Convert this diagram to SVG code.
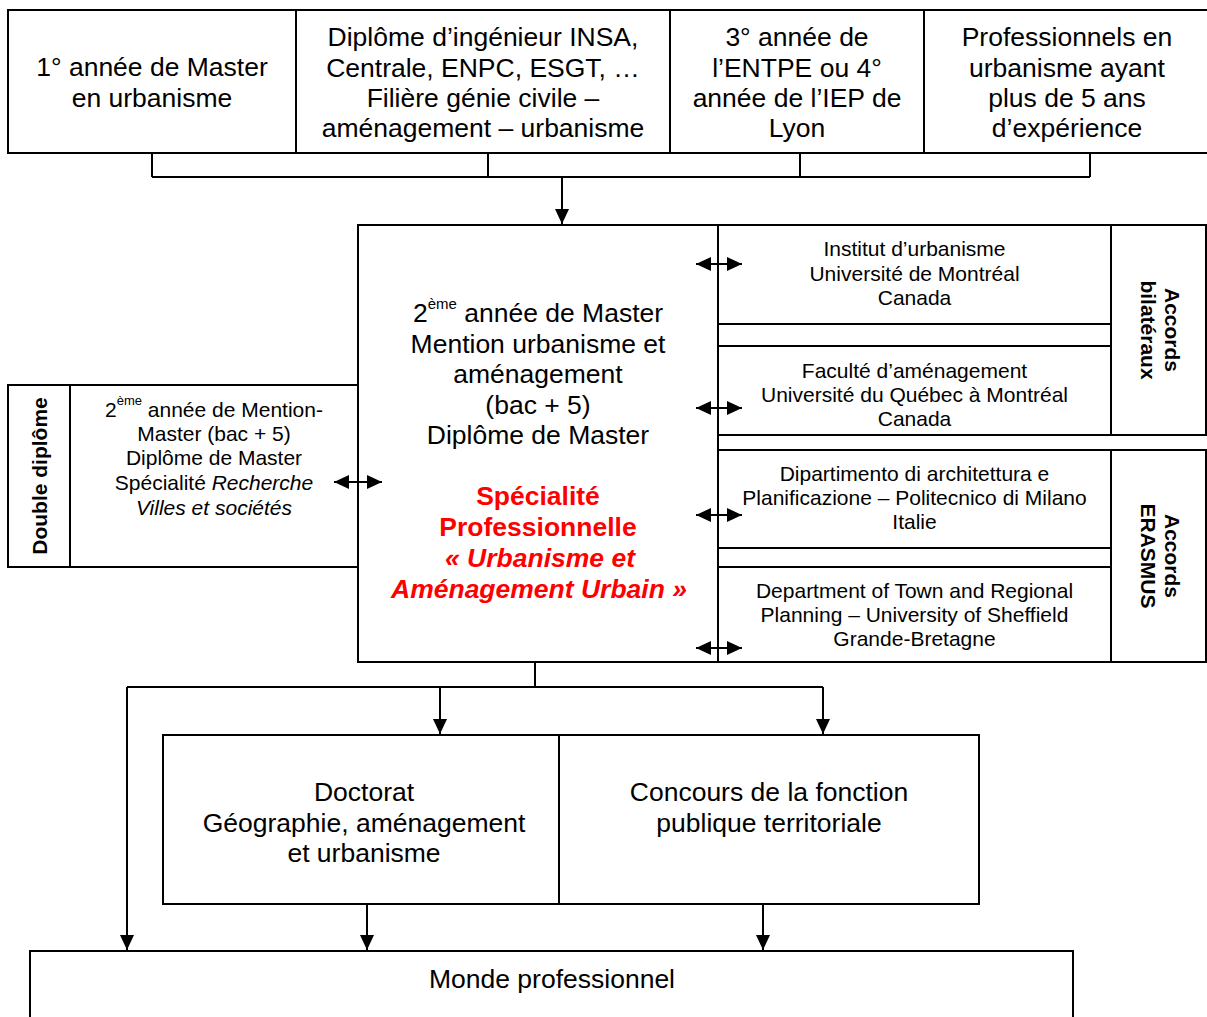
<svg xmlns="http://www.w3.org/2000/svg" width="1207" height="1017" viewBox="0 0 1207 1017">
<style>
.box{fill:#fff;stroke:#000;stroke-width:2}
.t{font-family:"Liberation Sans",Arial,sans-serif;font-size:26.5px;text-anchor:middle;fill:#000}
.s{font-size:21px}
.b{font-weight:bold}
.red{fill:#ff0000;font-weight:bold}
.i{font-style:italic}
.conn{stroke:#000;stroke-width:2;fill:none}
</style>
<defs>
<marker id="ah" markerUnits="userSpaceOnUse" viewBox="0 0 15 14" refX="15" refY="7" markerWidth="15" markerHeight="14" orient="auto-start-reverse">
<path d="M0,0 L15,7 L0,14 z" fill="#000"/>
</marker>
</defs>
<rect width="1207" height="1017" fill="#fff"/>

<g id="n-master1">
<rect class="box" x="8" y="10" width="288" height="143"/>
<text class="t" x="152" y="76">1° année de Master</text>
<text class="t" x="152" y="106.5">en urbanisme</text>
</g>
<g id="n-ingenieur">
<rect class="box" x="296" y="10" width="374" height="143"/>
<text class="t" x="483" y="46">Diplôme d’ingénieur INSA,</text>
<text class="t" x="483" y="76.5">Centrale, ENPC, ESGT, …</text>
<text class="t" x="483" y="107">Filière génie civile –</text>
<text class="t" x="483" y="137">aménagement – urbanisme</text>
</g>
<g id="n-entpe">
<rect class="box" x="670" y="10" width="254" height="143"/>
<text class="t" x="797" y="46">3° année de</text>
<text class="t" x="797" y="76.5">l’ENTPE ou 4°</text>
<text class="t" x="797" y="107">année de l’IEP de</text>
<text class="t" x="797" y="137">Lyon</text>
</g>
<g id="n-pros">
<rect class="box" x="924" y="10" width="286" height="143"/>
<text class="t" x="1067" y="46">Professionnels en</text>
<text class="t" x="1067" y="76.5">urbanisme ayant</text>
<text class="t" x="1067" y="107">plus de 5 ans</text>
<text class="t" x="1067" y="137">d’expérience</text>
</g>

<g id="n-master2">
<rect class="box" x="358" y="225" width="360" height="437"/>
<text class="t" x="538" y="322">2<tspan font-size="15" dy="-13">ème</tspan><tspan dy="13"> année de Master</tspan></text>
<text class="t" x="538" y="352.5">Mention urbanisme et</text>
<text class="t" x="538" y="383">aménagement</text>
<text class="t" x="538" y="413.5">(bac + 5)</text>
<text class="t" x="538" y="444">Diplôme de Master</text>
<text class="t red" x="538" y="505">Spécialité</text>
<text class="t red" x="538" y="536">Professionnelle</text>
<text class="t red i" x="540" y="567">« Urbanisme et</text>
<text class="t red i" x="539" y="598">Aménagement Urbain »</text>
</g>

<g id="n-double">
<rect class="box" x="8" y="385" width="62" height="182"/>
<text class="t s b" transform="translate(47,476) rotate(-90)">Double diplôme</text>
</g>
<g id="n-recherche">
<rect class="box" x="70" y="385" width="288" height="182"/>
<text class="t s" x="214" y="416.5">2<tspan font-size="13" dy="-12">ème</tspan><tspan dy="12"> année de Mention-</tspan></text>
<text class="t s" x="214" y="441">Master (bac + 5)</text>
<text class="t s" x="214" y="465">Diplôme de Master</text>
<text class="t s" x="214" y="490">Spécialité <tspan class="i">Recherche</tspan></text>
<text class="t s i" x="214" y="514.5">Villes et sociétés</text>
</g>

<g id="n-montreal">
<rect class="box" x="718" y="225" width="393" height="99"/>
<text class="t s" x="914.5" y="256">Institut d’urbanisme</text>
<text class="t s" x="914.5" y="280.5">Université de Montréal</text>
<text class="t s" x="914.5" y="305">Canada</text>
</g>
<g id="n-uqam">
<rect class="box" x="718" y="346" width="393" height="89"/>
<text class="t s" x="914.5" y="378">Faculté d’aménagement</text>
<text class="t s" x="914.5" y="402">Université du Québec à Montréal</text>
<text class="t s" x="914.5" y="426">Canada</text>
</g>
<g id="n-bilat">
<rect class="box" x="1111" y="225" width="95" height="210"/>
<text class="t s b" transform="translate(1165,330) rotate(90)">Accords<tspan x="0" dy="24">bilatéraux</tspan></text>
</g>
<g id="n-milano">
<rect class="box" x="718" y="450" width="393" height="98"/>
<text class="t s" x="914.5" y="480.5">Dipartimento di architettura e</text>
<text class="t s" x="914.5" y="504.5">Planificazione – Politecnico di Milano</text>
<text class="t s" x="914.5" y="529">Italie</text>
</g>
<g id="n-sheffield">
<rect class="box" x="718" y="567" width="393" height="95"/>
<text class="t s" x="914.5" y="598">Department of Town and Regional</text>
<text class="t s" x="914.5" y="622">Planning – University of Sheffield</text>
<text class="t s" x="914.5" y="646">Grande-Bretagne</text>
</g>
<g id="n-erasmus">
<rect class="box" x="1111" y="450" width="95" height="212"/>
<text class="t s b" transform="translate(1165,556) rotate(90)">Accords<tspan x="0" dy="24">ERASMUS</tspan></text>
</g>

<g id="n-doctorat">
<rect class="box" x="163" y="735" width="396" height="169"/>
<text class="t" x="364" y="801">Doctorat</text>
<text class="t" x="364" y="831.5">Géographie, aménagement</text>
<text class="t" x="364" y="862">et urbanisme</text>
</g>
<g id="n-concours">
<rect class="box" x="559" y="735" width="420" height="169"/>
<text class="t" x="769" y="801">Concours de la fonction</text>
<text class="t" x="769" y="831.5">publique territoriale</text>
</g>
<g id="n-monde">
<rect class="box" x="30" y="951" width="1043" height="90"/>
<text class="t" x="552" y="988">Monde professionnel</text>
</g>

<g id="connectors">
<path class="conn" d="M152,153 V177 M488,153 V177 M800,153 V177 M1090,153 V177 M152,177 H1090"/>
<line class="conn" x1="562" y1="177" x2="562" y2="224" marker-end="url(#ah)"/>
<line class="conn" x1="696" y1="264" x2="742" y2="264" marker-start="url(#ah)" marker-end="url(#ah)"/>
<line class="conn" x1="696" y1="408" x2="742" y2="408" marker-start="url(#ah)" marker-end="url(#ah)"/>
<line class="conn" x1="696" y1="515" x2="742" y2="515" marker-start="url(#ah)" marker-end="url(#ah)"/>
<line class="conn" x1="696" y1="648" x2="742" y2="648" marker-start="url(#ah)" marker-end="url(#ah)"/>
<line class="conn" x1="334" y1="482" x2="382" y2="482" marker-start="url(#ah)" marker-end="url(#ah)"/>
<path class="conn" d="M535,662 V687 M127,687 H823"/>
<line class="conn" x1="127" y1="687" x2="127" y2="950" marker-end="url(#ah)"/>
<line class="conn" x1="440" y1="687" x2="440" y2="734" marker-end="url(#ah)"/>
<line class="conn" x1="823" y1="687" x2="823" y2="734" marker-end="url(#ah)"/>
<line class="conn" x1="367" y1="904" x2="367" y2="950" marker-end="url(#ah)"/>
<line class="conn" x1="763" y1="904" x2="763" y2="950" marker-end="url(#ah)"/>
</g>
</svg>
